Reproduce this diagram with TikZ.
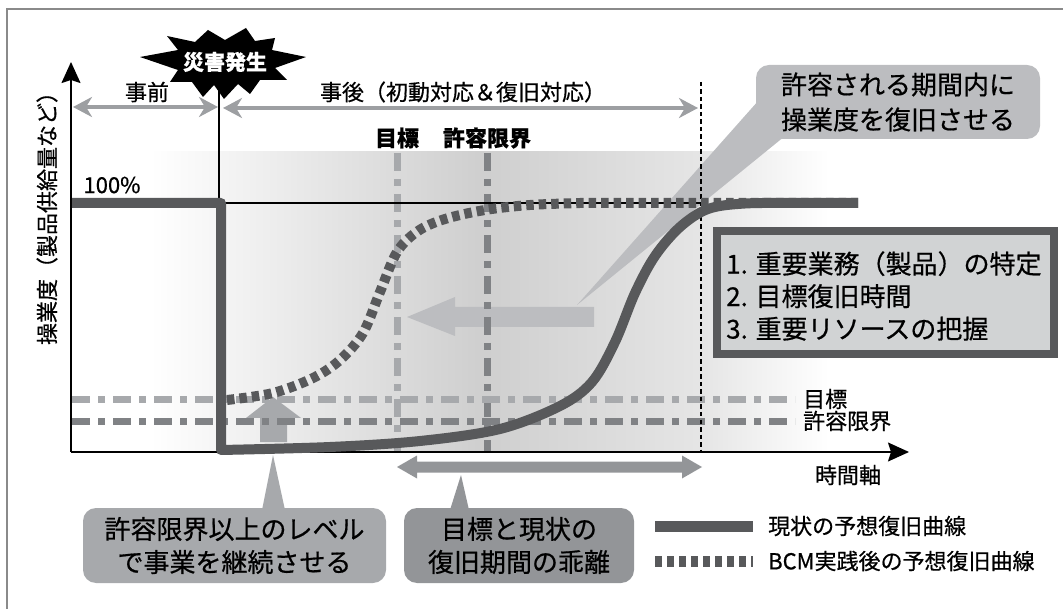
\documentclass[tikz,border=0pt]{standalone}
\usepackage{fontspec}
\setmainfont{Noto Sans CJK JP}[FakeBold=0.6]
\usetikzlibrary{arrows.meta}
\definecolor{dk}{HTML}{58595B}
\definecolor{lt}{HTML}{BCBDC0}
\definecolor{md}{HTML}{A7A9AC}
\definecolor{mdd}{HTML}{939598}
\definecolor{dd}{HTML}{808285}
\definecolor{boxfill}{HTML}{D1D3D4}
\definecolor{toparr}{HTML}{9D9FA2}
\definecolor{framec}{HTML}{8A8A8A}
\pgfdeclarehorizontalshading{bgshade}{100bp}{color(0bp)=(white); color(25bp)=(white); color(30bp)=(white); color(51bp)=(black!19); color(65bp)=(black!10); color(73bp)=(white); color(100bp)=(white)}
\begin{document}
\begin{tikzpicture}[x=1pt,y=-1pt,
  lbl/.style={inner sep=0pt, font=\fontsize{22}{26}\selectfont},
  dashdot/.style={line width=7pt, dash pattern=on 18pt off 8pt on 7pt off 8pt},
  curvesolid/.style={draw=dk, line width=10pt, line join=round},
  curvedot/.style={draw=dk, line width=10pt, dash pattern=on 7.5pt off 5pt},
  toparrow/.style={draw=toparr, line width=4pt, {Stealth[length=19pt,width=20pt,inset=6pt]}-{Stealth[length=19pt,width=20pt,inset=6pt]}},
  callout/.style={rounded corners=13pt, inner sep=0pt, align=center},
  axis/.style={draw=black, line width=1.5pt, -{Stealth[length=21pt,width=19pt,inset=3pt]}}
]
\useasboundingbox (0,0) rectangle (1063,609);
% frame
\draw[framec, line width=1.5pt] (7,609) -- (7,9) -- (1063,9);
% background
\shade[shading=bgshade] (71,152) rectangle (860,452);
% wedge of top callout and big arrows
\fill[lt] (759,100) -- (785,136) -- (577,305) -- cycle;
\fill[lt] (594,307) -- (455,307) -- (455,297) -- (407,317) -- (455,336) -- (455,327) -- (594,327) -- cycle;
\fill[md] (260,442) -- (260,418) -- (246,418) -- (273,397) -- (301,418) -- (287,418) -- (287,442) -- cycle;
% dash-dot lines
\draw[dashdot, md] (397,153) -- (397,452);
\draw[dashdot, dd] (487,153) -- (487,452);
\draw[dashdot, md] (72,400) -- (795,400);
\draw[dashdot, dd] (72,422) -- (795,422);
% axes and guide lines
\coordinate (O) at (71,452);
\coordinate (ytip) at (71,62);
\coordinate (xtip) at (909,452);
\draw[axis] (O) -- (ytip);
\draw[axis] (O) -- (xtip);
\draw[black, line width=2pt, dash pattern=on 4.5pt off 3pt] (701,82) -- (701,452);
\draw[black, line width=1.5pt] (219,88) -- (219,203);
\draw[black, line width=1.3pt] (221,203) -- (705,203);
% curves
\draw[curvesolid] (72,203) -- (221,203) -- (221,450) -- plot[smooth, tension=0.55] coordinates {(221,450) (330,447) (420,441) (500,429) (560,406) (592,382) (615,342) (635,293) (655,256) (680,227) (708,209) (745,203.5) (800,203)} -- (858,203);
\draw[curvedot] plot[smooth, tension=0.55] coordinates {(227,400) (273,393) (313,378) (340,360) (363,333) (380,292) (397,252) (418,231) (445,219) (485,210) (530,205) (580,203)} -- (858,203);
% burst
\fill[black] (140,57) -- (178,50) -- (167,36) -- (195,42) -- (208,30) -- (225,40) -- (246,28) -- (255,41) -- (275,38) -- (272,50) -- (306,57) -- (275,68) -- (287,80) -- (260,80) -- (250,94) -- (238,84) -- (224,99) -- (214,85) -- (203,97) -- (192,82) -- (170,82) -- (178,70) -- cycle;
\node[lbl, text=white, font=\bfseries\fontsize{21}{24}\selectfont] (burst) at (225,62) {災害発生};
% top arrows
\draw[toparrow] (73,107) -- (218,107);
\draw[toparrow] (223,108) -- (698,108);
\node[lbl] (pre) at (147,92) {事前};
\node[lbl] (post) at (463,92) {事後（初動対応＆復旧対応）};
% labels
\node[lbl, font=\bfseries\fontsize{22}{26}\selectfont] (tgtv) at (397,138) {目標};
\node[lbl, font=\bfseries\fontsize{22}{26}\selectfont] (limv) at (487,138) {許容限界};
\node[lbl, anchor=west] (tgth) at (803,399) {目標};
\node[lbl, anchor=west] (limh) at (803,421) {許容限界};
\node[lbl] (pct) at (112,185) {100\%};
\node[lbl] (xlab) at (848,475) {時間軸};
\node[lbl, rotate=90] (ylab) at (47,213) {操業度（製品供給量など）};
% top-right callout
\node[callout, fill=lt, minimum width=284pt, minimum height=74pt, font=\fontsize{26}{35}\selectfont] (c1) at (898,102) {許容される期間内に\\操業度を復旧させる};
% right box
\node[draw=dk, line width=7.5pt, fill=boxfill, minimum width=337pt, minimum height=123pt, inner sep=0pt] (box) at (885.5,292.5) {};
\node[lbl, anchor=west, align=left, font=\fontsize{26}{32.5}\selectfont] (boxtxt) at (726,296) {1. 重要業務（製品）の特定\\2. 目標復旧時間\\3. 重要リソースの把握};
% bottom callouts
\fill[md] (262,510) -- (285,510) -- (273,455) -- cycle;
\node[callout, fill=md, minimum width=303pt, minimum height=75pt, font=\fontsize{26}{33}\selectfont] (c2) at (234.5,545.5) {許容限界以上のレベル\\で事業を継続させる};
\fill[mdd] (450,510) -- (469,510) -- (461,475) -- cycle;
\node[callout, fill=mdd, minimum width=230pt, minimum height=75pt, font=\fontsize{26}{33}\selectfont] (c3) at (519,545.5) {目標と現状の\\復旧期間の乖離};
% gap double arrow
\fill[mdd] (397,467) -- (417,455.5) -- (417,461.5) -- (682,461.5) -- (682,455.5) -- (702,467) -- (682,478.5) -- (682,472.5) -- (417,472.5) -- (417,478.5) -- cycle;
% legend
\coordinate (l1a) at (655,526);
\coordinate (l1b) at (753,526);
\coordinate (l2a) at (655,561);
\coordinate (l2b) at (753,561);
\draw[dk, line width=11pt] (l1a) -- (l1b);
\draw[dk, line width=11pt, dash pattern=on 7pt off 5pt] (l2a) -- (l2b);
\node[lbl, anchor=west] (leg1) at (768,526) {現状の予想復旧曲線};
\node[lbl, anchor=west] (leg2) at (768,561) {BCM実践後の予想復旧曲線};
\end{tikzpicture}
\end{document}
